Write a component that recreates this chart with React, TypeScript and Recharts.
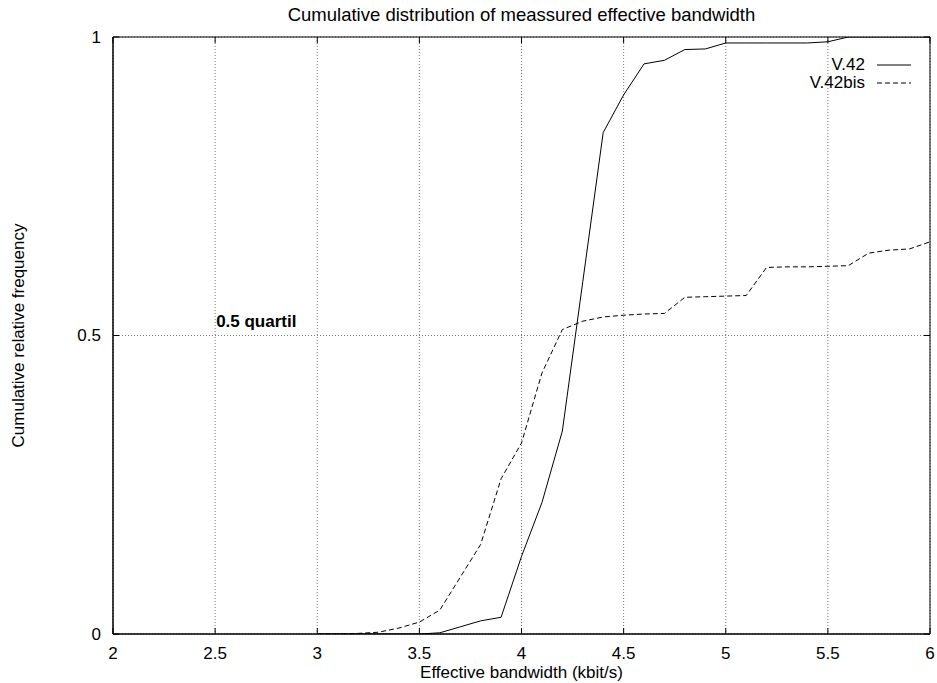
import React from "react";
import {
  LineChart,
  Line,
  XAxis,
  YAxis,
  CartesianGrid,
  Legend,
  ReferenceDot,
  ReferenceArea,
} from "recharts";

const FONT = '"Liberation Sans", Arial, Helvetica, sans-serif';

const bandwidth = [
  3.0, 3.1, 3.2, 3.3, 3.4, 3.5, 3.6, 3.7, 3.8, 3.9, 4.0, 4.1, 4.2, 4.3, 4.4,
  4.5, 4.6, 4.7, 4.8, 4.9, 5.0, 5.1, 5.2, 5.3, 5.4, 5.5, 5.6, 5.7, 5.8, 5.9,
  6.0,
];

const v42 = [
  0, 0, 0, 0, 0, 0, 0.002, 0.012, 0.022, 0.028, 0.13, 0.22, 0.34, 0.59, 0.84,
  0.903, 0.955, 0.961, 0.979, 0.98, 0.99, 0.99, 0.99, 0.99, 0.99, 0.992, 1, 1,
  1, 1, 1,
];

const v42bis = [
  0, 0, 0.001, 0.003, 0.01, 0.02, 0.04, 0.095, 0.15, 0.26, 0.32, 0.437, 0.51,
  0.524, 0.531, 0.534, 0.536, 0.537, 0.564, 0.565, 0.566, 0.567, 0.614, 0.615,
  0.615, 0.616, 0.617, 0.638, 0.643, 0.645, 0.657,
];

const xTicks = [2, 2.5, 3, 3.5, 4, 4.5, 5, 5.5, 6];
const yTicks = [0, 0.5, 1];

const series = [
  { key: "v42", name: "V.42", dash: undefined as string | undefined },
  { key: "v42bis", name: "V.42bis", dash: "5 3" },
];

const data = bandwidth.map((x, i) => ({ x, v42: v42[i], v42bis: v42bis[i] }));

// chart frame
const W = 937;
const H = 683;
const M = { top: 37, right: 7, bottom: 0, left: 0 };
const Y_AXIS_W = 113;
const X_AXIS_H = 49;
const PLOT_TOP = M.top;
const PLOT_RIGHT = W - M.right;
const TICK_LEN = 6;

// inward tick marks on bottom + top border, label below
function BottomTick(props: any) {
  const { x, y, payload } = props;
  return (
    <g>
      <line x1={x} y1={y} x2={x} y2={y - TICK_LEN} stroke="#000" />
      <line x1={x} y1={PLOT_TOP} x2={x} y2={PLOT_TOP + TICK_LEN} stroke="#000" />
      <text
        x={x}
        y={y + 19}
        textAnchor="middle"
        dominantBaseline="central"
        fontFamily={FONT}
        fontSize={17}
        fill="#000"
      >
        {payload.value}
      </text>
    </g>
  );
}

// inward tick marks on left + right border, label left
function LeftTick(props: any) {
  const { x, y, payload } = props;
  return (
    <g>
      <line x1={x} y1={y} x2={x + TICK_LEN} y2={y} stroke="#000" />
      <line x1={PLOT_RIGHT} y1={y} x2={PLOT_RIGHT - TICK_LEN} y2={y} stroke="#000" />
      <text
        x={x - 12}
        y={y}
        textAnchor="end"
        dominantBaseline="central"
        fontFamily={FONT}
        fontSize={17}
        fill="#000"
      >
        {payload.value}
      </text>
    </g>
  );
}

function LegendBox() {
  return (
    <div style={{ fontFamily: FONT, fontSize: 17, color: "#000" }}>
      {series.map((s) => (
        <div
          key={s.key}
          style={{
            display: "flex",
            alignItems: "center",
            justifyContent: "flex-end",
            height: 18,
          }}
        >
          <span>{s.name}</span>
          <svg width={46} height={10}>
            <line
              x1={12}
              y1={5}
              x2={46}
              y2={5}
              stroke="#000"
              strokeDasharray={s.dash}
            />
          </svg>
        </div>
      ))}
    </div>
  );
}

export default function App() {
  return (
    <div style={{ width: W, height: H }}>
      <style>{"body { margin: 0; } html { overflow: hidden; }"}</style>
      <LineChart width={W} height={H} data={data} margin={M}>
        <CartesianGrid stroke="#777" strokeDasharray="1 2" />
        <XAxis
          dataKey="x"
          type="number"
          domain={[2, 6]}
          allowDataOverflow
          ticks={xTicks}
          height={X_AXIS_H}
          axisLine={{ stroke: "#000" }}
          tickLine={false}
          tickSize={0}
          tickMargin={0}
          tick={<BottomTick />}
          interval={0}
          label={{
            content: ({ viewBox }: any) => (
              <text
                x={viewBox.x + viewBox.width / 2}
                y={viewBox.y + 38}
                textAnchor="middle"
                dominantBaseline="central"
                fontFamily={FONT}
                fontSize={17}
                fill="#000"
              >
                Effective bandwidth (kbit/s)
              </text>
            ),
          }}
        />
        <YAxis
          type="number"
          domain={[0, 1]}
          allowDataOverflow
          ticks={yTicks}
          width={Y_AXIS_W}
          axisLine={{ stroke: "#000" }}
          tickLine={false}
          tickSize={0}
          tickMargin={0}
          tick={<LeftTick />}
          interval={0}
          label={{
            content: ({ viewBox }: any) => {
              const cy = viewBox.y + viewBox.height / 2;
              return (
                <text
                  x={18}
                  y={cy}
                  transform={`rotate(-90, 18, ${cy})`}
                  textAnchor="middle"
                  dominantBaseline="central"
                  fontFamily={FONT}
                  fontSize={17}
                  fill="#000"
                >
                  Cumulative relative frequency
                </text>
              );
            },
          }}
        />
        <ReferenceDot
          x={2.5}
          y={0.5}
          r={1}
          fill="none"
          stroke="none"
          label={{
            content: ({ viewBox }: any) => (
              <text
                x={viewBox.x + viewBox.width / 2 + 1}
                y={viewBox.y + viewBox.height / 2 - 14}
                textAnchor="start"
                dominantBaseline="central"
                fontFamily={FONT}
                fontSize={17}
                fontWeight="bold"
                fill="#000"
              >
                0.5 quartil
              </text>
            ),
          }}
        />
        <Legend
          layout="vertical"
          align="center"
          verticalAlign="middle"
          wrapperStyle={{ left: 761, top: 56, width: 150 }}
          content={<LegendBox />}
        />
        {series.map((s) => (
          <Line
            key={s.key}
            dataKey={s.key}
            name={s.name}
            type="linear"
            stroke="#000"
            strokeWidth={1}
            strokeDasharray={s.dash}
            dot={false}
            activeDot={false}
            isAnimationActive={false}
          />
        ))}
        {/* plot frame, with the title above it */}
        <ReferenceArea
          x1={2}
          x2={6}
          y1={0}
          y2={1}
          fill="none"
          fillOpacity={0}
          stroke="#000"
          strokeWidth={1}
          ifOverflow="visible"
          label={{
            content: ({ viewBox }: any) => (
              <text
                x={viewBox.x + viewBox.width / 2}
                y={viewBox.y - 23}
                textAnchor="middle"
                dominantBaseline="central"
                fontFamily={FONT}
                fontSize={18.5}
                fill="#000"
              >
                Cumulative distribution of meassured effective bandwidth
              </text>
            ),
          }}
        />
      </LineChart>
    </div>
  );
}
